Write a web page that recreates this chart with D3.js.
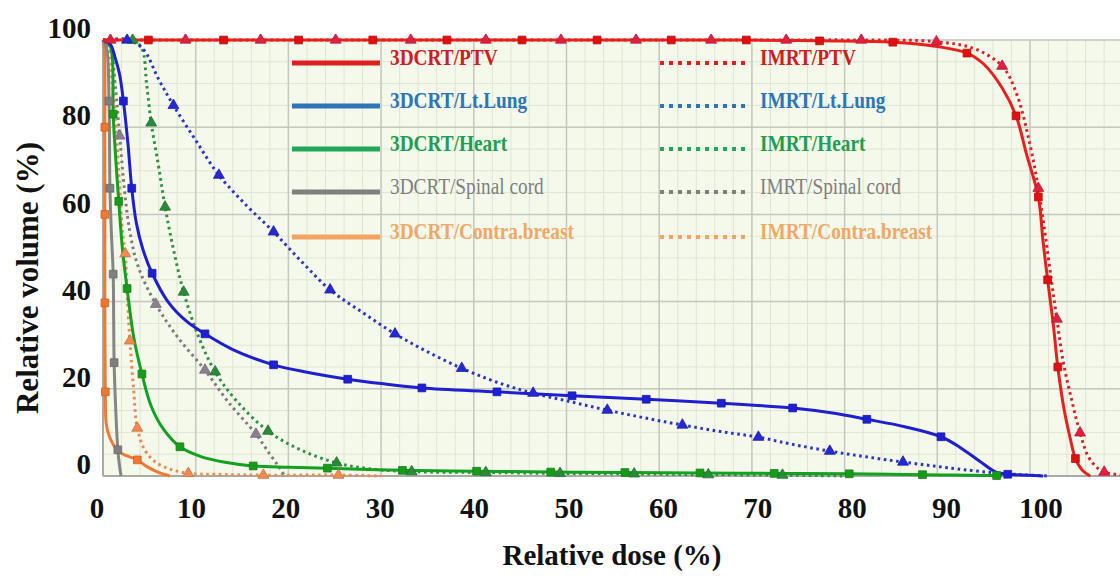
<!DOCTYPE html>
<html>
<head>
<meta charset="utf-8">
<script src="https://cdn.jsdelivr.net/npm/d3@7/dist/d3.min.js"></script>
<style>
  html, body { margin: 0; padding: 0; background: #ffffff; }
  svg { display: block; }
</style>
</head>
<body>
<svg id="chart" width="1120" height="578"></svg>
<script>
// ---------------- DATA ----------------
const doseTicks = [0, 10, 20, 30, 40, 50, 60, 70, 80, 90, 100];
const volumeTicks = [0, 20, 40, 60, 80, 100];
const xTitle = "Relative dose (%)";
const yTitle = "Relative volume  (%)";

// [dose %, volume %, marker flag]
const ptv3dcrt = [[0,100,0],[4.9,100,1],[13,100,1],[21.1,100,1],[29.1,100,1],[37.1,100,1],[45.2,100,1],[53.3,100,1],[61.3,100,1],[69.4,100,1],[77.3,99.8,1],[85.2,99.5,1],[90,98.5,0],[93.2,97,1],[95,94.5,0],[97,89,0],[98.5,82.6,1],[99.6,74,0],[100.9,64,1],[101.4,54,0],[101.9,45,1],[102.5,35,0],[103,25,1],[103.7,15,0],[104.3,9,0],[104.9,4,1],[105.7,1.2,0],[106.5,0,0]];
const ptvImrt = [[0,100,0],[0.8,100,1],[8.9,100,1],[17,100,1],[25.1,100,1],[33.2,100,1],[41.3,100,1],[49.4,100,1],[57.5,100,1],[65.6,100,1],[73.7,100,1],[81.8,100,1],[89.9,99.6,1],[94,98,0],[97,94,1],[98.5,88,0],[100,76,0],[100.9,66,1],[101.6,56,0],[102.3,45,0],[102.9,36,1],[103.6,26,0],[104.5,17.4,0],[105.4,9.9,1],[106.3,4.4,0],[107.3,1.8,0],[108,0.9,1],[109.5,0.3,0],[110,0.2,0]];
const lung3dcrt = [[0,100,0],[0.8,99,0],[1.3,96,0],[1.8,92,0],[2.2,86,1],[2.7,76,0],[3.1,66,1],[3.6,58,0],[4.3,52,0],[5.3,46.5,1],[7,40,0],[9,35.5,0],[11,32.6,1],[14,29,0],[18.4,25.5,1],[22,23.8,0],[26.4,22.2,1],[30,21.2,0],[34.4,20.2,1],[42.5,19.3,1],[50.6,18.4,1],[58.6,17.6,1],[66.7,16.7,1],[74.4,15.6,1],[78.5,14.5,0],[82.4,13,1],[86.5,11.3,0],[90.4,9,1],[92.5,6.5,0],[94.5,3.5,0],[96.4,0.8,0],[97.6,0.4,1],[101.4,0,0]];
const lungImrt = [[0,100,0],[2.6,100,1],[4.3,98,0],[6,91,0],[7.6,85,1],[10,77,0],[12.5,69,1],[15.5,62,0],[18.4,56,1],[21.5,49,0],[24.5,42.7,1],[28,37.5,0],[31.5,32.6,1],[35,28.5,0],[38.7,24.7,1],[42.5,21.5,0],[46.4,19,1],[50.5,17,0],[54.4,15.1,1],[58.5,13.3,0],[62.5,11.7,1],[66.6,10.2,0],[70.7,8.9,1],[74.5,7.2,0],[78.4,5.7,1],[82.3,4.4,0],[86.3,3.2,1],[90,2.2,0],[93.5,1.3,0],[96.4,0.7,0],[99,0.3,0],[102,0,0]];
const heart3dcrt = [[0,100,0],[0.7,99,0],[1,96,0],[1.1,83,1],[1.4,72,0],[1.7,63,1],[2.1,52,0],[2.6,43,1],[3.3,32,0],[4.2,23.4,1],[5.2,16,0],[6.5,10.8,0],[8.3,6.7,1],[10.5,4.5,0],[13,3.2,0],[16.2,2.3,1],[20,2,0],[24.2,1.8,1],[32.3,1.3,1],[40.3,1.1,1],[48.3,0.9,1],[56.3,0.8,1],[64.4,0.7,1],[72.4,0.6,1],[80.5,0.5,1],[88.4,0.3,1],[96.4,0.1,1],[97,0,0]];
const heartImrt = [[0,100,0],[3.2,100,1],[4.2,98,0],[4.7,90,0],[5.2,81,1],[6,71,0],[6.7,61.7,1],[7.6,52,0],[8.7,42.2,1],[10.3,32,0],[12.1,23.9,1],[14.5,17,0],[17.8,10.3,1],[21.3,6,0],[25.2,3,1],[29,1.6,0],[33.3,1,1],[41.3,0.8,1],[49.3,0.6,1],[57.3,0.5,1],[65.3,0.3,1],[73.3,0.2,1],[80,0,0]];
const spinal3dcrt = [[0,100,0],[0.4,98,0],[0.65,86,1],[0.75,66,1],[0.9,56,0],[1.1,46.3,1],[1.15,36,0],[1.2,26,1],[1.4,14,0],[1.6,6,1],[1.8,2,0],[1.95,0,0]];
const spinalImrt = [[0,100,0],[0.8,98,0],[1.3,90,0],[1.8,78,1],[2.3,66,0],[2.9,56,0],[3.8,48,0],[5.7,39.4,1],[8,32,0],[11,24.3,1],[13.5,17,0],[16.5,9.6,1],[18,5,0],[19,2,0],[19.6,0,0]];
const breast3dcrt = [[0,100,0],[0.15,98,0],[0.2,80,1],[0.2,60,1],[0.2,39.7,1],[0.25,19.3,1],[0.35,12,0],[0.7,9,0],[1.6,5.8,0],[2.6,4.6,0],[3.7,3.7,1],[4.7,2.2,0],[5.8,1,0],[7.2,0,0]];
const breastImrt = [[0,100,0],[0.6,98,0],[1,90,0],[1.4,80,0],[1.8,66,0],[2.1,56,0],[2.4,51,1],[2.6,42,0],[2.9,31,1],[3.3,20,0],[3.7,11,1],[4.5,6,0],[5.6,3.3,0],[7.2,1.6,0],[9.2,0.6,1],[12,0.4,0],[17.3,0.2,1],[25.4,0.2,1],[30,0,0]];

const seriesNames3d = ["3DCRT/PTV", "3DCRT/Lt.Lung", "3DCRT/Heart", "3DCRT/Spinal  cord", "3DCRT/Contra.breast"];
const seriesNamesImrt = ["IMRT/PTV", "IMRT/Lt.Lung", "IMRT/Heart", "IMRT/Spinal  cord", "IMRT/Contra.breast"];

// ---------------- STYLE / CONFIG ----------------
const series = [
  { data: breastImrt, line: "#ef8a4e", mark: "#f08a50", dotted: true, sym: "tri" },
  { data: breast3dcrt, line: "#f07a35", mark: "#ee7733", dotted: false, sym: "sq" },
  { data: spinalImrt, line: "#7c7c7c", mark: "#8a8090", dotted: true, sym: "tri" },
  { data: spinal3dcrt, line: "#858585", mark: "#7f7f7f", dotted: false, sym: "sq" },
  { data: heartImrt, line: "#2e9040", mark: "#2a8a3a", dotted: true, sym: "tri" },
  { data: heart3dcrt, line: "#14a020", mark: "#1a9a1a", dotted: false, sym: "sq" },
  { data: lungImrt, line: "#2a35c0", mark: "#2828d0", dotted: true, sym: "tri" },
  { data: lung3dcrt, line: "#1f1fcf", mark: "#1e1ed2", dotted: false, sym: "sq" },
  { data: ptvImrt, line: "#d8202a", mark: "#e02040", dotted: true, sym: "tri" },
  { data: ptv3dcrt, line: "#e8201c", mark: "#e01010", dotted: false, sym: "sq" }
];
const legendColors = [
  { line: "#e02020", text: "#cc2020", weight: "bold" },
  { line: "#2e75b6", text: "#2e75b6", weight: "bold" },
  { line: "#20a858", text: "#1e9e50", weight: "bold" },
  { line: "#7f7f7f", text: "#7f7f7f", weight: "normal" },
  { line: "#f4a460", text: "#f0a868", weight: "bold" }
];

const svg = d3.select("#chart");
const W = 1120, H = 578;
const x = d3.scaleLinear().domain([0, 110]).range([103, 1122.7]);
const y = d3.scaleLinear().domain([0, 100]).range([476, 40]);
const xLab = d3.scaleLinear().domain([0, 100]).range([97, 1041]);
const serif = "'Liberation Serif', 'Times New Roman', serif";

// plot background
svg.append("rect")
  .attr("x", x(0)).attr("y", y(100))
  .attr("width", W - x(0)).attr("height", y(0) - y(100))
  .attr("fill", "#f5f9ec");

const grid = svg.append("g");
// minor grid
grid.selectAll("line.mv").data(d3.range(0, 111, 2)).join("line")
  .attr("x1", d => x(d)).attr("x2", d => x(d))
  .attr("y1", y(0)).attr("y2", y(100))
  .attr("stroke", "#dfe5d3").attr("stroke-width", 1);
grid.selectAll("line.mh").data(d3.range(0, 101, 5)).join("line")
  .attr("x1", x(0)).attr("x2", W)
  .attr("y1", d => y(d)).attr("y2", d => y(d))
  .attr("stroke", "#dfe5d3").attr("stroke-width", 1);
// major grid
grid.selectAll("line.Mv").data(d3.range(0, 111, 10)).join("line")
  .attr("x1", d => x(d)).attr("x2", d => x(d))
  .attr("y1", y(0)).attr("y2", y(100))
  .attr("stroke", "#c6c8bf").attr("stroke-width", 1.5);
grid.selectAll("line.Mh").data(volumeTicks).join("line")
  .attr("x1", x(0)).attr("x2", W)
  .attr("y1", d => y(d)).attr("y2", d => y(d))
  .attr("stroke", "#c6c8bf").attr("stroke-width", 1.5);

// axes lines
svg.append("line").attr("x1", x(0)).attr("x2", x(0)).attr("y1", y(0)).attr("y2", y(100))
  .attr("stroke", "#a8aaa4").attr("stroke-width", 2);
svg.append("line").attr("x1", x(0)).attr("x2", W).attr("y1", y(0)).attr("y2", y(0))
  .attr("stroke", "#a8aaa4").attr("stroke-width", 2);

// tick labels
svg.append("g").selectAll("text").data(volumeTicks).join("text")
  .attr("x", 91).attr("y", d => y(d) - 12)
  .attr("dy", "0.35em")
  .attr("text-anchor", "end")
  .attr("font-family", serif).attr("font-weight", "bold").attr("font-size", 29)
  .attr("fill", "#111")
  .text(d => d);
svg.append("g").selectAll("text").data(doseTicks).join("text")
  .attr("x", d => xLab(d)).attr("y", 518)
  .attr("text-anchor", "middle")
  .attr("font-family", serif).attr("font-weight", "bold").attr("font-size", 29)
  .attr("fill", "#111")
  .text(d => d);

// axis titles
svg.append("text")
  .attr("x", 612).attr("y", 565)
  .attr("text-anchor", "middle")
  .attr("font-family", serif).attr("font-weight", "bold").attr("font-size", 29)
  .attr("fill", "#111")
  .text(xTitle);
svg.append("text")
  .attr("transform", "translate(38,278) rotate(-90)")
  .attr("text-anchor", "middle")
  .attr("font-family", serif).attr("font-weight", "bold").attr("font-size", 31)
  .attr("fill", "#111")
  .text(yTitle);

// legend
const legendRows = [63, 106, 149, 192, 237];
const legend = svg.append("g");
function legendCol(names, x1, x2, tx, dotted) {
  names.forEach((name, i) => {
    const c = legendColors[i];
    legend.append("line")
      .attr("x1", x1).attr("x2", x2)
      .attr("y1", legendRows[i]).attr("y2", legendRows[i])
      .attr("stroke", c.line).attr("stroke-width", dotted ? 4 : 5)
      .attr("stroke-dasharray", dotted ? "4,5" : null);
    legend.append("text")
      .attr("transform", `translate(${tx},${legendRows[i] + 2}) scale(0.84,1)`)
      .attr("font-family", serif).attr("font-weight", c.weight).attr("font-size", 23)
      .attr("fill", c.text)
      .text(name);
  });
}
legendCol(seriesNames3d, 292, 380, 390, false);
legendCol(seriesNamesImrt, 660, 748, 760, true);

// curves
const clip = svg.append("clipPath").attr("id", "plotclip").append("rect")
  .attr("x", x(0) - 6).attr("y", y(100) - 6).attr("width", W).attr("height", y(0) - y(100) + 10);
const lineGen = d3.line()
  .x(d => x(d[0])).y(d => y(d[1]))
  .curve(d3.curveCatmullRom.alpha(0.5));
const plot = svg.append("g").attr("clip-path", "url(#plotclip)");
series.forEach(s => {
  plot.append("path")
    .attr("d", lineGen(s.data))
    .attr("fill", "none")
    .attr("stroke", s.line)
    .attr("stroke-width", 3)
    .attr("stroke-dasharray", s.dotted ? "2.6,3.6" : null);
});
const sq = d3.symbol().type(d3.symbolSquare).size(60);
const tri = d3.symbol().type(d3.symbolTriangle).size(52);
series.forEach(s => {
  plot.append("g").selectAll("path")
    .data(s.data.filter(d => d[2] === 1))
    .join("path")
    .attr("transform", d => `translate(${x(d[0])},${y(d[1])})`)
    .attr("d", s.sym === "sq" ? sq() : tri())
    .attr("fill", s.mark)
    .attr("stroke", d3.color(s.mark).darker(0.5))
    .attr("stroke-width", 0.8);
});
</script>
</body>
</html>
